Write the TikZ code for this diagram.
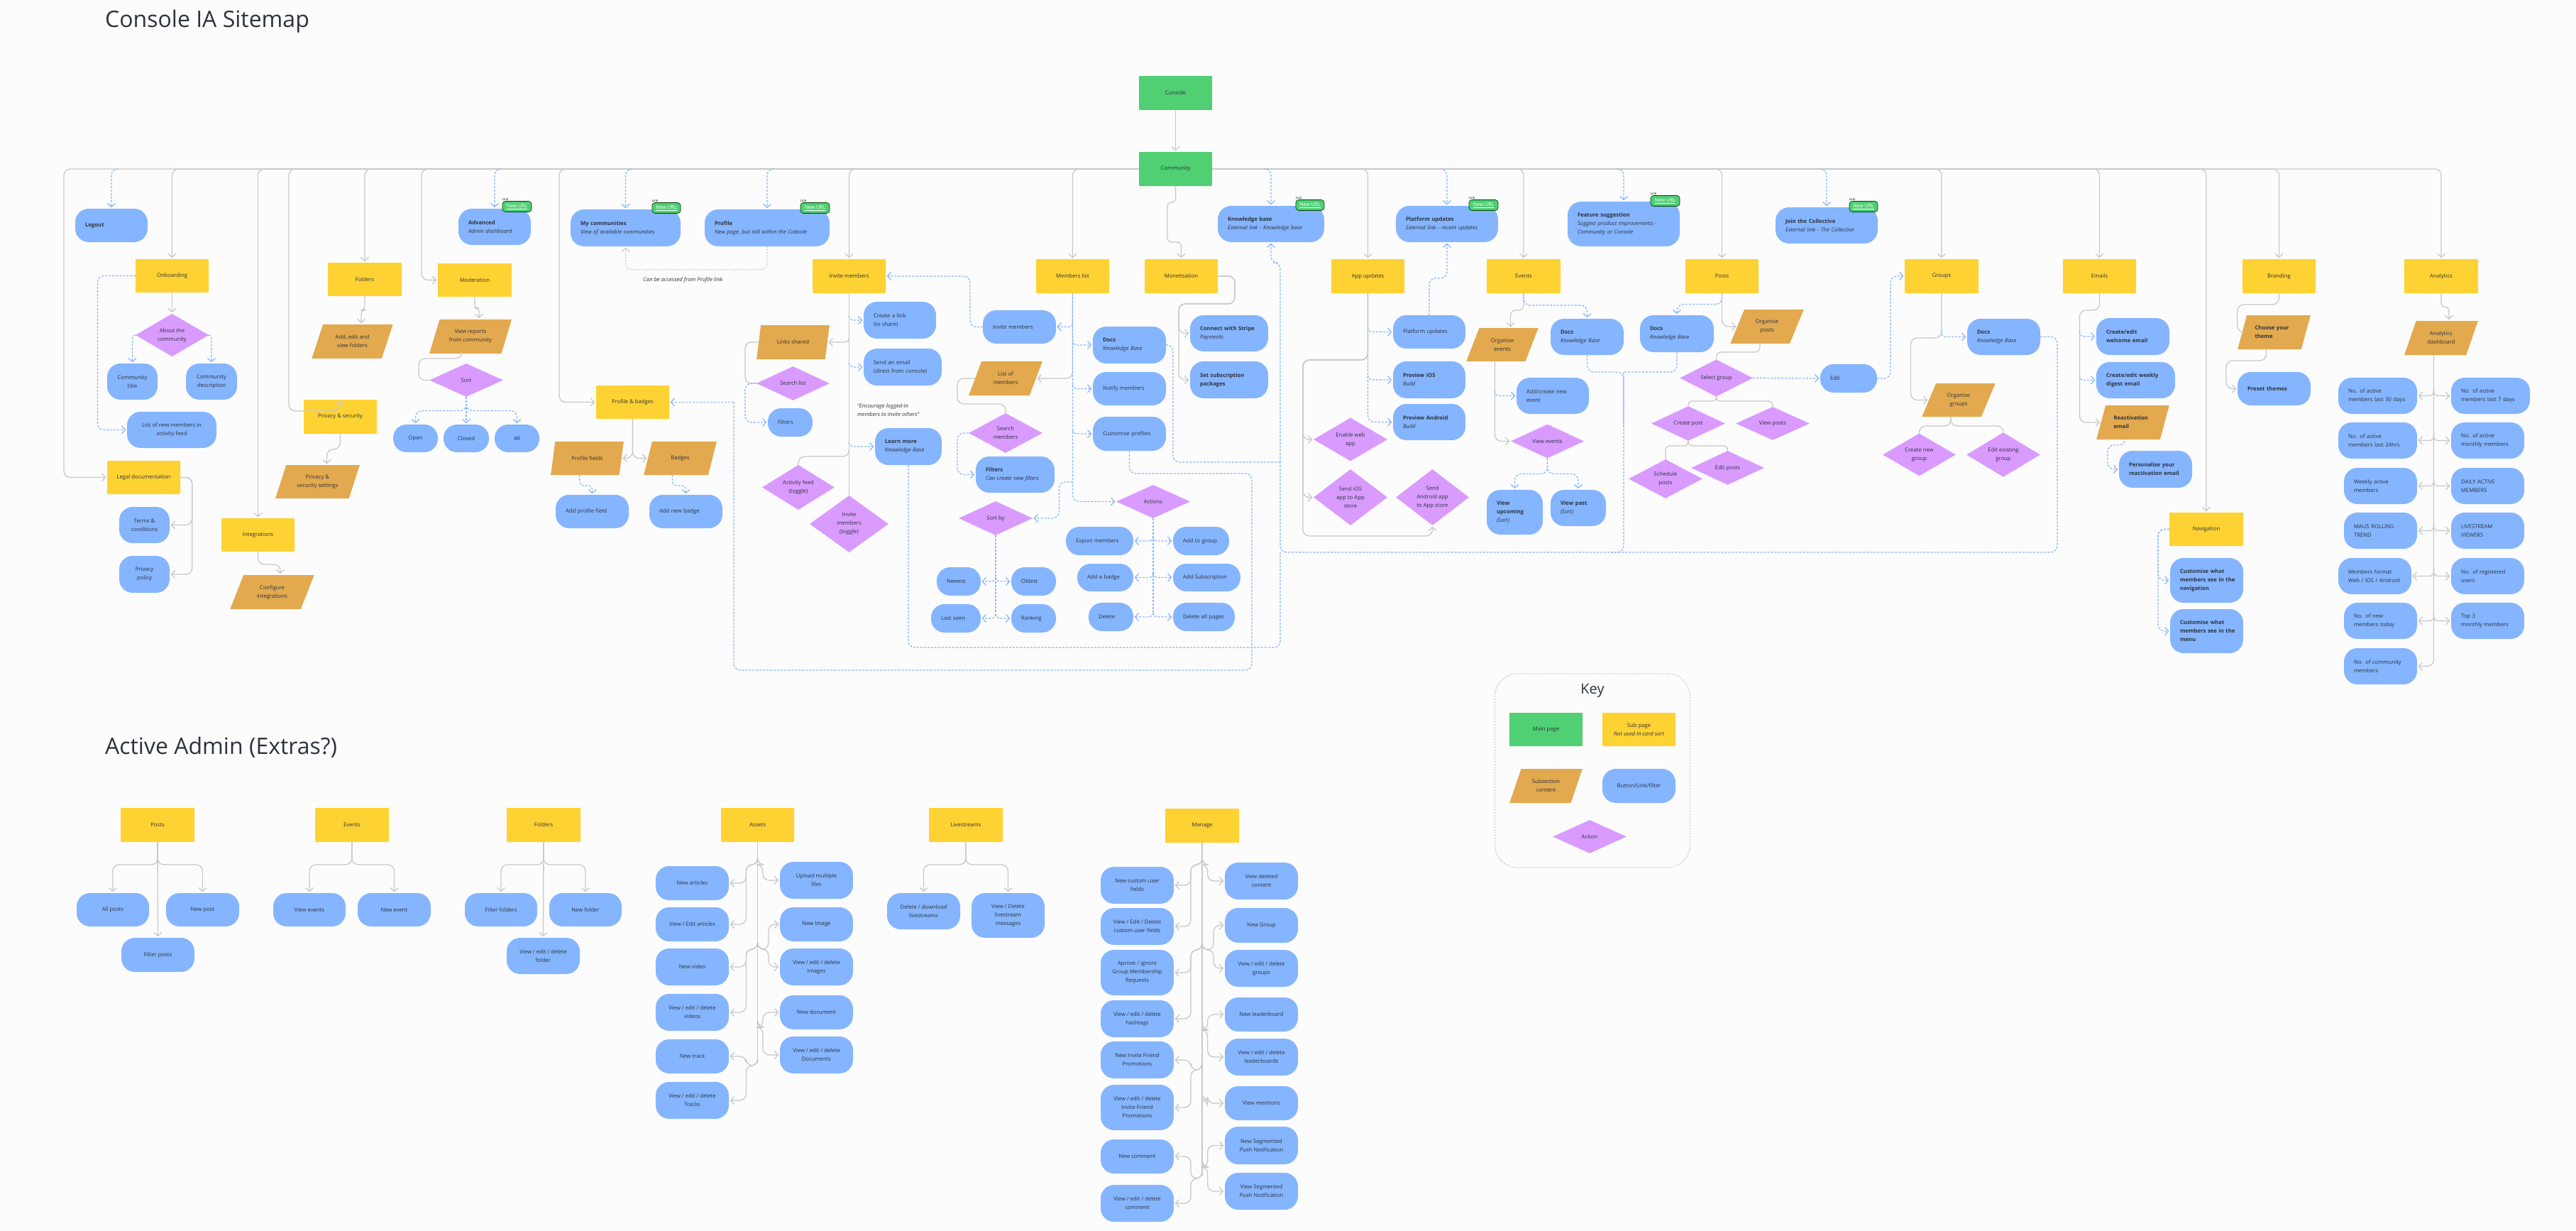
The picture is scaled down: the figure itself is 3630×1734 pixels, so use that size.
\documentclass[tikz,border=0pt]{standalone}
\usepackage{fontspec}
\setmainfont{Open Sans}
\usetikzlibrary{shapes.geometric,arrows.meta}
\definecolor{bgc}{HTML}{FCFCFC}
\definecolor{grn}{HTML}{50CF73}
\definecolor{ylw}{HTML}{FFD233}
\definecolor{org}{HTML}{E3A94F}
\definecolor{blu}{HTML}{85B5FF}
\definecolor{pur}{HTML}{D99BFF}
\definecolor{lgr}{HTML}{C9C9C9}
\definecolor{txc}{HTML}{2D333D}
\tikzset{
 base/.style={font=\fontsize{7.7}{12}\selectfont,text=txc,inner sep=0pt,align=center},
 mainpg/.style={base,fill=grn,rectangle,rounded corners=1pt},
 subpg/.style={base,fill=ylw,rectangle,rounded corners=1pt},
 contentp/.style={base,fill=org,trapezium,trapezium left angle=63,trapezium right angle=117,trapezium stretches=true},
 btn/.style={base,fill=blu,rectangle,rounded corners=19pt},
 actn/.style={base,fill=pur,diamond},
 gn/.style={draw=lgr,line width=1.3pt,rounded corners=9pt},
 gw/.style={gn,-{Straight Barb[length=5pt,width=11pt]},shorten >=1.5pt},
 bn/.style={draw=blu,line width=1.2pt,dash pattern=on 3pt off 2pt,rounded corners=9pt},
 bw/.style={bn,-{Straight Barb[length=5pt,width=11pt]},shorten >=1.5pt},
 badge/.style={font=\fontsize{7}{8}\selectfont,text=white,fill=grn,draw=black!75!green,line width=.7pt,rounded corners=4pt,inner sep=0pt},
 tiny/.style={font=\fontsize{4.5}{5}\selectfont,text=black,inner sep=0pt},
 title/.style={font=\fontsize{32}{36}\selectfont,text=txc,inner sep=0pt,anchor=west},
 note/.style={base,font=\fontsize{7.7}{12}\selectfont\itshape,align=left},
}
\newcommand\nd[7]{%
 \pgfmathsetmacro\ndX{(#3+#5)/2}\pgfmathsetmacro\ndY{(#4+#6)/2}%
 \pgfmathsetmacro\ndW{#5-#3}\pgfmathsetmacro\ndH{#6-#4}%
 \node[#1,minimum width=\ndW pt,minimum height=\ndH pt] (#2) at (\ndX,\ndY) {#7};}
\newcommand\ndl[6]{% blue button, left-aligned text
 \pgfmathsetmacro\ndX{(#2+#4)/2}\pgfmathsetmacro\ndY{(#3+#5)/2}%
 \pgfmathsetmacro\ndW{#4-#2}\pgfmathsetmacro\ndH{#5-#3}\pgfmathsetmacro\ndT{\ndW-28}%
 \node[btn,align=left,text width=\ndT pt,inner xsep=14pt,minimum height=\ndH pt] (#1) at (\ndX,\ndY) {#6};}
\newcommand\urlbadge[4]{%
 \pgfmathsetmacro\ndX{(#2+#3)/2}\pgfmathsetmacro\ndW{#3-#2}%
 \node[badge,minimum width=\ndW pt,minimum height=15pt] (#1) at (\ndX,#4) {\underline{New URL}};
 \node[tiny,anchor=south west] (#1t) at (#1.north west) {Link};}
\newcommand\drp[2]{\draw[bw] (#1.north |- community.west) ++(#2,0) -- ++(-#2,0) -- (#1.north);}
\newcommand\br[4]{\draw[#1,rounded corners=6pt] (#2 |- #3) ++(0,-#4) -- ++(0,#4) -- (#3);}
\newcommand\tre[5]{\draw[#1] (#2 |- 0,#3) -- ++(0,4) -- (#4,{#3+4}) -- (#4,0 |- #5) -- (#5);}
\begin{document}
\begin{tikzpicture}[x=1pt,y=-1pt]
\path[fill=bgc,use as bounding box] (0,0) rectangle (3630,1734);
\node[title] (t1) at (148,30) {Console IA Sitemap};
\node[title] (t2) at (148,1053) {Active Admin (Extras?)};
% top
\nd{mainpg}{console}{1605}{107}{1708}{155}{Console}
\nd{mainpg}{community}{1605}{214}{1708}{262}{Community}
% left
\ndl{logout}{106}{294}{208}{341}{\textbf{Logout}}
\nd{subpg}{onboarding}{191}{365}{294}{412}{Onboarding}
\nd{actn}{about}{191}{444}{294}{500}{About the\\community}
\nd{btn}{ctitle}{151}{512}{222}{563}{Community\\title}
\nd{btn}{cdesc}{262}{512}{334}{563}{Community\\description}
\nd{btn}{newlist}{179}{580}{305}{631}{List of new members in\\activity feed}
\nd{subpg}{legal}{151}{649}{254}{696}{Legal documentation}
\nd{btn}{terms}{168}{714}{239}{765}{Terms \&\\conditions}
\nd{btn}{policy}{168}{783}{239}{835}{Privacy\\policy}
\nd{subpg}{integrations}{312}{730}{415}{777}{Integrations}
\nd{contentp}{configure}{324}{810}{443}{858}{Configure\\integrations}
\nd{subpg}{folders}{462}{370}{566}{417}{Folders}
\nd{contentp}{addedit}{439}{457}{554}{505}{Add, edit and\\view folders}
\nd{subpg}{privacy}{428}{563}{531}{611}{Privacy \& security}
\nd{contentp}{settings}{388}{655}{507}{702}{Privacy \&\\security settings}
\nd{subpg}{moderation}{617}{371}{721}{418}{Moderation}
\nd{contentp}{reports}{605}{450}{721}{498}{View reports\\from community}
\nd{actn}{sortm}{605}{512}{709}{559}{Sort}
\nd{btn}{open}{554}{598}{617}{637}{Open}
\nd{btn}{closed}{625}{598}{689}{637}{Closed}
\nd{btn}{allb}{697}{598}{760}{637}{All}
\ndl{advanced}{646}{294}{748}{345}{\textbf{Advanced}\\\textit{Admin dashboard}}
\urlbadge{b1}{708}{749}{291}
\ndl{mycomm}{804}{295}{959}{347}{\textbf{My communities}\\\textit{View of available communities}}
\urlbadge{b2}{919}{959}{293}
\ndl{profile}{993}{295}{1169}{347}{\textbf{Profile}\\\textit{New page, but still within the Cobsole}}
\urlbadge{b3}{1128}{1169}{293}
\node[note,anchor=west] (acc) at (906,394) {Can be accessed from Profile link};
\nd{subpg}{pb}{840}{543}{943}{590}{Profile \& badges}
\nd{contentp}{pfields}{776}{622}{879}{669}{Profile fields}
\nd{contentp}{badges}{907}{622}{1010}{669}{Badges}
\ndl{addpf}{783}{697}{886}{744}{Add profile field}
\ndl{addb}{915}{697}{1018}{744}{Add new badge}
% invite
\nd{subpg}{invite}{1145}{365}{1248}{413}{Invite members}
\ndl{create}{1217}{425}{1319}{477}{Create a link\\(to share)}
\ndl{sendm}{1217}{491}{1327}{543}{Send an email\\(direct from console)}
\nd{contentp}{links}{1066}{458}{1169}{506}{Links shared}
\nd{actn}{search}{1066}{516}{1169}{564}{Search list}
\ndl{filt}{1082}{575}{1145}{615}{Filters}
\node[note,anchor=north west] (enc) at (1208,568) {“Encourage logged-in\\members to invite others”};
\ndl{learn}{1233}{603}{1327}{655}{\textbf{Learn more}\\\textit{Knowledge Base}}
\nd{actn}{activity}{1074}{659}{1176}{714}{Activity feed\\(toggle)}
\nd{actn}{invtog}{1141}{698}{1252}{778}{Invite\\members\\(toggle)}
% members
\nd{subpg}{members}{1460}{365}{1563}{413}{Members list}
\ndl{inviteb}{1385}{437}{1488}{484}{Invite members}
\nd{contentp}{listm}{1365}{509}{1469}{557}{List of\\members}
\nd{actn}{searchm}{1365}{582}{1469}{638}{Search\\members}
\ndl{filtm}{1375}{643}{1486}{694}{\textbf{Filters}\\\textit{Can create new filters}}
\nd{actn}{sortby}{1351}{706}{1455}{754}{Sort by}
\ndl{newest}{1320}{799}{1382}{839}{Newest}
\ndl{oldest}{1425}{799}{1488}{839}{Oldest}
\ndl{lastseen}{1312}{851}{1382}{891}{Last seen}
\ndl{ranking}{1425}{851}{1488}{891}{Ranking}
\ndl{docsm}{1540}{460}{1643}{512}{\textbf{Docs}\\\textit{Knowledge Base}}
\ndl{notify}{1540}{524}{1643}{571}{Notify members}
\ndl{cust}{1540}{587}{1643}{635}{Customise profiles}
\nd{actn}{actions}{1573}{683}{1677}{730}{Actions}
\ndl{export}{1502}{742}{1597}{782}{Export members}
\ndl{addg}{1653}{742}{1732}{782}{Add to group}
\ndl{addbd}{1518}{794}{1597}{833}{Add a badge}
\ndl{adds}{1653}{794}{1748}{833}{Add Subscription}
\ndl{del}{1534}{849}{1597}{889}{Delete}
\ndl{delall}{1653}{849}{1740}{889}{Delete all pages}
% monetisation
\nd{subpg}{mon}{1613}{365}{1716}{413}{Monetisation}
\ndl{stripe}{1677}{444}{1787}{495}{\textbf{Connect with Stripe}\\\textit{Payments}}
\ndl{setsub}{1677}{509}{1787}{561}{\textbf{Set subscription}\\\textbf{packages}}
\ndl{kb}{1716}{290}{1866}{341}{\textbf{Knowledge base}\\\textit{External link - Knowledge base}}
\urlbadge{b4}{1826}{1866}{289}
\ndl{plat}{1967}{290}{2111}{341}{\textbf{Platform updates}\\\textit{External link - recent updates}}
\urlbadge{b5}{2070}{2111}{289}
% app
\nd{subpg}{appu}{1876}{365}{1979}{413}{App updates}
\ndl{platb}{1963}{444}{2065}{491}{Platform updates}
\ndl{ios}{1963}{509}{2065}{561}{\textbf{Preview iOS}\\\textit{Build}}
\ndl{android}{1963}{569}{2065}{620}{\textbf{Preview Android}\\\textit{Build}}
\nd{actn}{enable}{1851}{591}{1955}{647}{Enable web\\app}
\nd{actn}{sendios}{1851}{661}{1955}{740}{Send iOS\\app to App\\store}
\nd{actn}{sendand}{1967}{661}{2070}{740}{Send\\Android app\\to App store}
% events
\nd{subpg}{events}{2095}{365}{2199}{413}{Events}
\nd{contentp}{orge}{2066}{462}{2168}{509}{Organise\\events}
\ndl{docse}{2185}{449}{2288}{500}{\textbf{Docs}\\\textit{Knowledge Base}}
\ndl{addev}{2137}{532}{2239}{583}{Add/create new\\event}
\nd{actn}{viewev}{2129}{598}{2232}{645}{View events}
\ndl{upc}{2095}{690}{2174}{753}{\textbf{View}\\\textbf{upcoming}\\\textit{(Sort)}}
\ndl{past}{2185}{690}{2263}{741}{\textbf{View past}\\\textit{(Sort)}}
\ndl{feature}{2209}{284}{2367}{347}{\textbf{Feature suggestion}\\\textit{Suggest product improvements -}\\\textit{Community or Console}}
\urlbadge{b6}{2326}{2367}{283}
\ndl{join}{2502}{292}{2646}{343}{\textbf{Join the Collective}\\\textit{External link - The Collective}}
\urlbadge{b7}{2606}{2646}{291}
% posts
\nd{subpg}{posts}{2375}{365}{2478}{413}{Posts}
\ndl{docsp}{2311}{444}{2415}{496}{\textbf{Docs}\\\textit{Knowledge Base}}
\nd{contentp}{orgp}{2438}{436}{2542}{484}{Organise\\posts}
\nd{actn}{selectg}{2367}{509}{2470}{556}{Select group}
\ndl{edit}{2565}{513}{2645}{553}{Edit}
\nd{actn}{createp}{2327}{573}{2431}{620}{Create post}
\nd{actn}{viewp}{2446}{573}{2550}{620}{View posts}
\nd{actn}{sched}{2295}{647}{2399}{702}{Schedule\\posts}
\nd{actn}{editp}{2383}{635}{2486}{683}{Edit posts}
% groups
\nd{subpg}{groups}{2684}{365}{2788}{413}{Groups}
\ndl{docsg}{2772}{449}{2875}{500}{\textbf{Docs}\\\textit{Knowledge Base}}
\nd{contentp}{orgg}{2708}{540}{2812}{587}{Organise\\groups}
\nd{actn}{createg}{2653}{613}{2756}{668}{Create new\\group}
\nd{actn}{editg}{2771}{613}{2875}{668}{Edit existing\\group}
% emails
\nd{subpg}{emails}{2907}{365}{3010}{413}{Emails}
\ndl{welcome}{2954}{448}{3057}{500}{\textbf{Create/edit}\\\textbf{welcome email}}
\ndl{weekly}{2954}{510}{3065}{561}{\textbf{Create/edit weekly}\\\textbf{digest email}}
\nd{contentp,align=left,text width=54pt}{react}{2954}{571}{3057}{619}{\textbf{Reactivation}\\\textbf{email}}
\ndl{personal}{2986}{635}{3089}{687}{\mbox{\textbf{Personalise your}}\\\mbox{\textbf{reactivation email}}}
% navigation
\nd{subpg}{nav}{3057}{722}{3161}{769}{Navigation}
\ndl{nav1}{3058}{786}{3161}{849}{\mbox{\textbf{Customise what}}\\\mbox{\textbf{members see in the}}\\\mbox{\textbf{navigation}}}
\ndl{nav2}{3058}{858}{3161}{920}{\mbox{\textbf{Customise what}}\\\mbox{\textbf{members see in the}}\\\mbox{\textbf{menu}}}
% branding
\nd{subpg}{brand}{3160}{365}{3263}{413}{Branding}
\nd{contentp,align=left,text width=54pt}{theme}{3153}{444}{3256}{492}{\textbf{Choose your}\\\textbf{theme}}
\ndl{preset}{3153}{524}{3256}{571}{\textbf{Preset themes}}
% analytics
\nd{subpg}{analytics}{3388}{365}{3492}{413}{Analytics}
\nd{contentp}{dash}{3388}{452}{3492}{500}{Analytics\\dashboard}
\ndl{a1}{3295}{532}{3406}{583}{No. of active\\members last 30 days}
\ndl{a2}{3454}{532}{3565}{583}{No. of active\\members last 7 days}
\ndl{a3}{3295}{595}{3406}{646}{No. of active\\members last 24hrs}
\ndl{a4}{3454}{595}{3557}{646}{No. of active\\monthly members}
\ndl{a5}{3303}{659}{3406}{710}{Weekly active\\members}
\ndl{a6}{3454}{659}{3557}{710}{DAILY ACTIVE\\MEMBERS}
\ndl{a7}{3303}{722}{3406}{773}{MAUS ROLLING\\TREND}
\ndl{a8}{3454}{722}{3557}{773}{LIVESTREAM\\VIEWERS}
\ndl{a9}{3295}{786}{3398}{837}{Members format\\\mbox{Web / iOS / Android}}
\ndl{a10}{3454}{786}{3557}{837}{No. of registered\\users}
\ndl{a11}{3303}{849}{3406}{900}{No. of new\\members today}
\ndl{a12}{3454}{849}{3557}{900}{Top 3\\monthly members}
\ndl{a13}{3303}{913}{3406}{964}{No. of community\\members}
% key
\node[draw=lgr,line width=1.2pt,dash pattern=on 2pt off 2pt,rounded corners=32pt,minimum width=275pt,minimum height=273pt] (keybox) at (2244,1085.5) {};
\node[font=\fontsize{20}{24}\selectfont,text=txc,inner sep=0pt] (keyt) at (2244,973) {Key};
\nd{mainpg}{k1}{2127}{1004}{2230}{1051}{Main page}
\nd{subpg}{k2}{2258}{1004}{2361}{1051}{Sub page\\\textit{Not used in card sort}}
\nd{contentp}{k3}{2127}{1083}{2230}{1131}{Subsection\\content}
\nd{btn}{k4}{2258}{1083}{2361}{1131}{Button/Link/filter}
\nd{actn}{k5}{2188}{1155}{2292}{1202}{Action}
% lower
\nd{subpg}{p2}{170}{1138}{274}{1186}{Posts}
\nd{btn}{allp}{108}{1258}{210}{1305}{All posts}
\nd{btn}{newp}{234}{1258}{337}{1305}{New post}
\nd{btn}{filtp}{171}{1321}{274}{1369}{Filter posts}
\nd{subpg}{e2}{444}{1138}{548}{1186}{Events}
\nd{btn}{viewe}{385}{1258}{487}{1305}{View events}
\nd{btn}{newe}{504}{1258}{607}{1305}{New event}
\nd{subpg}{f2}{714}{1138}{818}{1186}{Folders}
\nd{btn}{filtf}{655}{1258}{757}{1305}{Filter folders}
\nd{btn}{newf}{774}{1258}{876}{1305}{New folder}
\nd{btn}{viewf}{714}{1321}{817}{1372}{View / edit / delete\\folder}
\nd{subpg}{assets}{1016}{1138}{1119}{1186}{Assets}
\nd{btn}{newart}{924}{1220}{1027}{1268}{New articles}
\nd{btn}{viewart}{924}{1278}{1027}{1326}{View / Edit articles}
\nd{btn}{newvid}{924}{1336}{1027}{1388}{New video}
\nd{btn}{vids}{924}{1400}{1027}{1452}{View / edit / delete\\videos}
\nd{btn}{newtrk}{924}{1464}{1027}{1512}{New track}
\nd{btn}{trks}{924}{1524}{1027}{1576}{View / edit / delete\\Tracks}
\nd{btn}{upload}{1099}{1214}{1202}{1266}{Upload multiple\\files}
\nd{btn}{newimg}{1099}{1278}{1202}{1326}{New Image}
\nd{btn}{imgs}{1099}{1336}{1202}{1388}{View / edit / delete\\Images}
\nd{btn}{newdoc}{1099}{1402}{1202}{1450}{New document}
\nd{btn}{docs}{1099}{1460}{1202}{1512}{View / edit / delete\\Documents}
\nd{subpg}{live}{1309}{1138}{1413}{1186}{Livestreams}
\nd{btn}{dellive}{1250}{1258}{1353}{1309}{Delete / download\\livestreams}
\nd{btn}{viewlive}{1369}{1258}{1472}{1321}{View / Delete\\livestream\\messages}
\nd{subpg}{manage}{1642}{1139}{1746}{1187}{Manage}
\nd{btn}{newcf}{1551}{1221}{1654}{1273}{New custom user\\fields}
\nd{btn}{viewcf}{1551}{1279}{1654}{1331}{View / Edit / Delete\\custom user fields}
\nd{btn}{aprove}{1551}{1338}{1654}{1402}{Aprove / ignore\\Group Membership\\Requests}
\nd{btn}{hash}{1551}{1409}{1654}{1461}{View / edit / delete\\hashtags}
\nd{btn}{newinv}{1551}{1467}{1654}{1519}{New Invite Friend\\Promotions}
\nd{btn}{inv}{1551}{1528}{1654}{1592}{View / edit / delete\\Invite Friend\\Promotions}
\nd{btn}{newcmt}{1551}{1605}{1654}{1653}{New comment}
\nd{btn}{cmt}{1551}{1669}{1654}{1721}{View / edit / delete\\comment}
\nd{btn}{viewdel}{1726}{1215}{1829}{1267}{View deleted\\content}
\nd{btn}{newgrp}{1726}{1279}{1829}{1328}{New Group}
\nd{btn}{grps}{1726}{1338}{1829}{1390}{View / edit / delete\\groups}
\nd{btn}{newlb}{1726}{1405}{1829}{1453}{New leaderboard}
\nd{btn}{lbs}{1726}{1463}{1829}{1515}{View / edit / delete\\leaderboards}
\nd{btn}{ment}{1726}{1530}{1829}{1578}{View mentions}
\nd{btn}{newseg}{1726}{1587}{1829}{1640}{New Segmented\\Push Notification}
\nd{btn}{viewseg}{1726}{1652}{1829}{1704}{View Segmented\\Push Notification}
% named helper coordinates
\coordinate (orgx) at ([xshift=-10.5pt]orge.south);
\coordinate (etr) at (2930.5,450);
\coordinate (atr) at ([xshift=-10.5pt]dash.south);
\coordinate (jdocs) at (2288,524);
\coordinate (jlow) at (2288,778);
\coordinate (jleft) at (1804,778);
\coordinate (jkb) at (1804,651);
% === connectors ===
\draw[gw] (console.south) -- (community.north);
\foreach \n in {onboarding,integrations,folders,invite,members}{\draw[gw] (community.west) -| (\n.north);}
\foreach \n in {appu,events,posts,groups,emails,nav,brand,analytics}{\draw[gw] (community.east) -| (\n.north);}
\draw[gw] (community.west) -- (90,238) -- (90,0 |- legal.west) -- (legal.west);
\draw[gw] (community.west) -- (407,238) -- (407,579) -- (privacy.north |- 0,579) -- (privacy.north);
\draw[gw] (community.west) -- (594,238) -- (594,0 |- moderation.west) -- (moderation.west);
\draw[gw] (community.west) -- (788,238) -- (788,0 |- pb.west) -- (pb.west);
\draw[gw,rounded corners=6pt] (community.south) -- (1657,285) -- (1645,285) -- (1645,341) -- (mon.north |- 0,341) -- (mon.north);
\drp{logout}{8}\drp{advanced}{8}\drp{mycomm}{8}\drp{profile}{8}
\drp{kb}{-7}\drp{plat}{-8}\drp{feature}{-8}\drp{join}{-8}
\draw[draw=lgr,line width=1.2pt,dash pattern=on 2pt off 2pt,rounded corners=9pt,-{Straight Barb[length=5pt,width=11pt]},shorten >=1.5pt] (profile.south) -- (profile.south |- 0,380) -- (mycomm.south |- 0,380) -- (mycomm.south);
% onboarding
\draw[gw] (onboarding.south) -- (about.north);
\draw[bw] (onboarding.west) -- (137.5,0 |- onboarding.west) -- (137.5,0 |- newlist.west) -- (newlist.west);
\draw[bw,rounded corners=4pt] (about.west) -| (ctitle.north);
\draw[bw,rounded corners=4pt] (about.east) -| (cdesc.north);
\draw[gw] (legal.east) -- (270.7,0 |- legal.east) -- (270.7,0 |- terms.east) -- (terms.east);
\draw[gw] (legal.east) -- (270.7,0 |- legal.east) -- (270.7,0 |- policy.east) -- (policy.east);
\draw[gw,rounded corners=5pt] (folders.south) -- (514,437) -- (509,437) -- ([xshift=12.5pt]addedit.north);
\draw[gw] (privacy.south) -- (479,633) -- (460.5,633) -- ([xshift=13pt]settings.north);
\draw[gw] (integrations.south) -- (363.6,795) -- (395,795) -- ([xshift=11.5pt]configure.north);
\draw[gw,rounded corners=5pt] (moderation.south) -- (668.7,434) -- (675,434) -- ([xshift=12pt]reports.north);
\draw[gn] ([xshift=-12pt]reports.south) -- (651,505) -- (590,505) -- (590,0 |- sortm.west) -- (sortm.west);
\draw[bw] (sortm.south) -- (657,578.5) -| (open.north);
\draw[bw] (sortm.south) -- (closed.north);
\draw[bw] (sortm.south) -- (657,578.5) -| (allb.north);
% profile badges
\draw[gw] (pb.south) |- (pfields.east);
\draw[gw] (pb.south) |- (badges.west);
\draw[bw,rounded corners=6pt] ([xshift=-11pt]pfields.south) -- (817,684) -- (834.5,684) -- (addpf.north);
\draw[bw,rounded corners=6pt] ([xshift=-11pt]badges.south) -- (947.5,684) -- (966.5,684) -- (addb.north);
% invite
\draw[gn] (invite.south) -- (invtog.north);
\br{bw}{invite.south}{create.west}{6}
\br{bw}{invite.south}{sendm.west}{6}
\br{bw}{invite.south}{learn.west}{6}
\br{gw}{invite.south}{links.east}{11}
\draw[gn] (links.west) -- (1050,0 |- links.west) -- (1050,0 |- search.west) -- (search.west);
\draw[bw] (search.west) -- (1050,0 |- search.west) -- (1050,0 |- filt.west) -- (filt.west);
\draw[gn] (invite.south |- 0,631) -- (invite.south |- 0,643) -- (activity.north |- 0,643) -- (activity.north);
% members
\draw[gw] (members.south) |- (listm.east);
\draw[bw] (members.south) |- (actions.west);
\br{bw}{members.south}{inviteb.east}{9}
\br{bw}{members.south}{docsm.west}{7}
\br{bw}{members.south}{notify.west}{6}
\br{bw}{members.south}{cust.west}{6}
\draw[bw] (members.south |- 0,679) -- (1492.4,679) -- (1492.4,0 |- sortby.east) -- (sortby.east);
\draw[bw] (inviteb.west) -- (1367,0 |- inviteb.west) -- (1367,0 |- invite.east) -- (invite.east);
\draw[gn] (listm.west) -- (1349,0 |- listm.west) -- (1349,569) -- (searchm.north |- 0,569) -- (searchm.north);
\draw[bw] (searchm.west) -- (1349,0 |- searchm.west) -- (1349,0 |- filtm.west) -- (filtm.west);
\draw[bn] (sortby.south) -- (sortby.south |- 0,863);
\foreach \n/\a in {newest/east,oldest/west,lastseen/east,ranking/west}{\br{bw}{sortby.south}{\n.\a}{6}}
\draw[bn] (actions.south) -- (actions.south |- 0,862);
\foreach \n/\a in {export/east,addg/west,addbd/east,adds/west,del/east,delall/west}{\br{bw}{actions.south}{\n.\a}{6}}
% knowledge base return lines
\draw[bw] (jkb) -- (1804,370) -- (kb.south |- 0,370) -- (kb.south);
\draw[bn] (docsm.east) -- (1653,0 |- docsm.east) -- (1653,651) -- (jkb);
\draw[bn] (jlow) -- (jleft) -- (jkb);
\draw[bn] (learn.south) -- (learn.south |- 0,912) -- (1804,912) -- (jleft);
\draw[bn] (cust.south) -- (cust.south |- 0,667) -- (1764,667) -- (1764,944) -- (1034,944) -- (1034,0 |- pb.east);
\draw[bw] (1034,0 |- pb.east) -- (pb.east);
\draw[bn] (docse.south) -- (docse.south |- jdocs) -- (jdocs) -- (2288,600);
\draw[bn] (docsp.south) -- (docsp.south |- jdocs) -- (jdocs);
\draw[bn] (jdocs) -- (2288,778) -- (2270,778);
\draw[bn] (docsg.east) -- (2899,0 |- docsg.east) -- (2899,778) -- (jlow);
% monetisation
\draw[gw] (mon.east) -- (1740,0 |- mon.east) -- (1740,428) -- (1661,428) -- (1661,0 |- stripe.west) -- (stripe.west);
\draw[gw] (mon.east) -- (1740,0 |- mon.east) -- (1740,428) -- (1661,428) -- (1661,0 |- setsub.west) -- (setsub.west);
% app updates
\draw[gw] (appu.south) -- (appu.south |- 0,507) -- (1836,507) -- (1836,755) -- (sendand.south |- 0,755) -- (sendand.south);
\draw[gw] (appu.south) -- (appu.south |- 0,507) -- (1836,507) -- (1836,0 |- enable.west) -- (enable.west);
\draw[gw] (appu.south) -- (appu.south |- 0,507) -- (1836,507) -- (1836,0 |- sendios.west) -- (sendios.west);
\br{bw}{appu.south}{platb.west}{6}
\br{bw}{appu.south}{ios.west}{6}
\draw[bw] (appu.south |- 0,500) |- (android.west);
\draw[bw] (platb.north) -- (platb.north |- 0,392) -- (plat.south |- 0,392) -- (plat.south);
% events
\draw[gw,rounded corners=7pt] (events.south) -- (2147,437) -- (2128.6,437) -- ([xshift=11.5pt]orge.north);
\draw[bw] (events.south) -- (2147,430) -- (docse.north |- 0,430) -- (docse.north);
\draw[gw] (orgx) |- (viewev.west);
\br{bw}{orgx}{addev.west}{7}
\draw[bw] (viewev.south) -- (viewev.south |- 0,667.5) -| (upc.north);
\draw[bw] (viewev.south) -- (viewev.south |- 0,667.5) -| (past.north);
% posts
\draw[bw] (posts.south) -- (posts.south |- 0,428.6) -- (docsp.north |- 0,428.6) -- (docsp.north);
\draw[gw] (posts.south) |- (orgp.west);
\draw[gn,rounded corners=7pt] ([xshift=-10pt]orgp.south) -- (2480,496) -- (selectg.north |- 0,496) -- (selectg.north);
\draw[bw] (selectg.east) -- (edit.west);
\draw[bw] (edit.east) -- (2664,0 |- edit.east) -- (2664,0 |- groups.west) -- (groups.west);
\draw[gn,rounded corners=5pt] (selectg.south) -- (selectg.south |- 0,565) -| (createp.north);
\draw[gn,rounded corners=5pt] (selectg.south) -- (selectg.south |- 0,565) -| (viewp.north);
\draw[gn,rounded corners=6pt] (createp.south) -- (createp.south |- 0,628) -| (sched.north);
\draw[gn,rounded corners=6pt] (createp.south) -- (createp.south |- 0,628) -| (editp.north);
% groups
\draw[gw] (groups.south) -- (groups.south |- 0,476) -- (2692.5,476) -- (2692.5,0 |- orgg.west) -- (orgg.west);
\br{bw}{groups.south}{docsg.west}{9}
\draw[gn] ([xshift=-11pt]orgg.south) -- (2749,600) -| (createg.north);
\draw[gn] ([xshift=-11pt]orgg.south) -- (2749,600) -| (editg.north);
% emails
\draw[gw] (emails.south) -- (emails.south |- 0,437) -- (2930.5,437) -- (2930.5,0 |- react.west) -- (react.west);
\br{bw}{etr}{welcome.west}{7}
\br{bw}{etr}{weekly.west}{7}
\draw[bw] ([xshift=-10.5pt]react.south) -- (2995,627) -- (2970,627) -- (2970,0 |- personal.west) -- (personal.west);
% navigation
\draw[bw] (nav.west) -- (3041,0 |- nav.west) -- (3041,0 |- nav1.west) -- (nav1.west);
\draw[bw] (nav.west) -- (3041,0 |- nav.west) -- (3041,0 |- nav2.west) -- (nav2.west);
% branding
\draw[gn] (brand.south) -- (brand.south |- 0,429) -- (3152.7,429) -- (3152.7,0 |- theme.west) -- (theme.west);
\draw[gw] ([xshift=-11pt]theme.south) -- (3193.6,508) -- (3137,508) -- (3137,0 |- preset.west) -- (preset.west);
% analytics
\draw[gw,rounded corners=5pt] (analytics.south) -- (3440,432.5) -- (3451,432.5) -- ([xshift=11pt]dash.north);
\draw[gw] (atr) -- (atr |- a13.east) -- (a13.east);
\foreach \n/\a in {a1/east,a2/west,a3/east,a4/west,a5/east,a6/west,a7/east,a8/west,a9/east,a10/west,a11/east,a12/west}{\br{gw}{atr}{\n.\a}{10}}
% lower trees
\draw[gw] (p2.south) -- (filtp.north);
\draw[gw] (p2.south) -- (p2.south |- 0,1218) -| (allp.north);
\draw[gw] (p2.south) -- (p2.south |- 0,1218) -| (newp.north);
\draw[gw] (e2.south) -- (e2.south |- 0,1218) -| (viewe.north);
\draw[gw] (e2.south) -- (e2.south |- 0,1218) -| (newe.north);
\draw[gw] (f2.south) -- (viewf.north);
\draw[gw] (f2.south) -- (f2.south |- 0,1218) -| (filtf.north);
\draw[gw] (f2.south) -- (f2.south |- 0,1218) -| (newf.north);
\draw[gw] (live.south) -- (live.south |- 0,1218) -| (dellive.north);
\draw[gw] (live.south) -- (live.south |- 0,1218) -| (viewlive.north);
\draw[gn] (assets.south) -- (assets.south |- 0,1497);
\foreach \n in {newart,viewart}{\tre{gw}{assets.south}{1214}{1051.4}{\n.east}}
\tre{gw}{assets.south}{1214}{1075}{upload.west}
\foreach \n in {newvid,vids}{\tre{gw}{assets.south}{1333}{1051.4}{\n.east}}
\foreach \n in {newimg,imgs}{\tre{gw}{assets.south}{1333}{1083}{\n.west}}
\foreach \n in {newdoc,docs}{\tre{gw}{assets.south}{1443}{1075}{\n.west}}
\foreach \n in {newtrk,trks}{\tre{gw}{assets.south}{1497}{1051.4}{\n.east}}
\draw[gn] (manage.south) -- (manage.south |- 0,1656);
\foreach \n in {newcf,viewcf}{\tre{gw}{manage.south}{1214}{1678}{\n.east}}
\tre{gw}{manage.south}{1214}{1701.7}{viewdel.west}
\foreach \n in {aprove,hash}{\tre{gw}{manage.south}{1334}{1678}{\n.east}}
\foreach \n in {newgrp,grps}{\tre{gw}{manage.south}{1334}{1710}{\n.west}}
\foreach \n in {newlb,lbs}{\tre{gw}{manage.south}{1447}{1701.7}{\n.west}}
\foreach \n in {newinv,inv}{\tre{gw}{manage.south}{1503}{1678}{\n.east}}
\tre{gw}{manage.south}{1545}{1701.7}{ment.west}
\foreach \n in {newseg,viewseg}{\tre{gw}{manage.south}{1640}{1701.7}{\n.west}}
\foreach \n in {newcmt,cmt}{\tre{gw}{manage.south}{1656}{1678}{\n.east}}
\end{tikzpicture}
\end{document}
